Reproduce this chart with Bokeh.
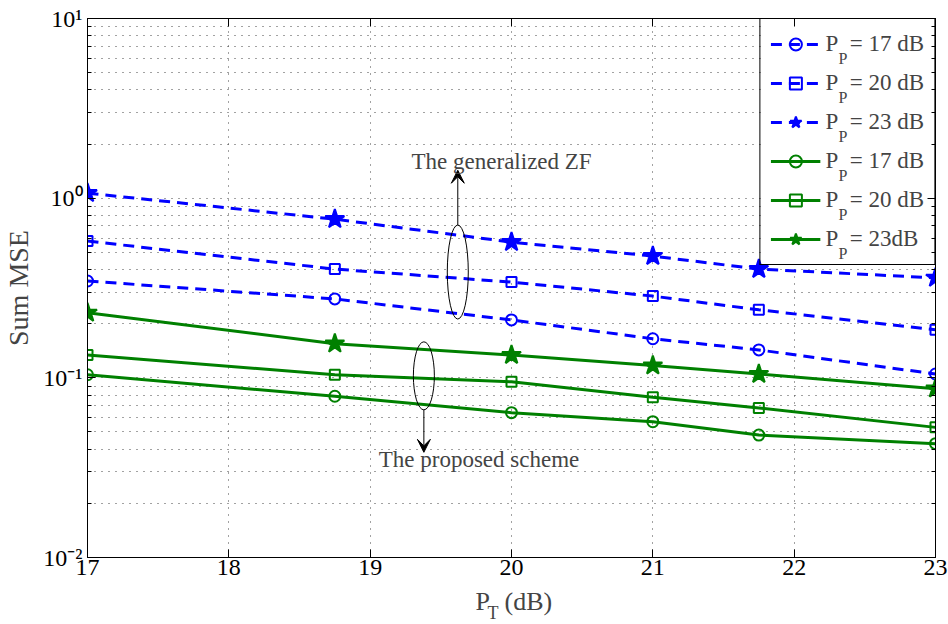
from bokeh.plotting import figure
from bokeh.layouts import column
from bokeh.models import (Legend, LegendItem, Label, Arrow, VeeHead, FixedTicker, BoxAnnotation,
                          LogAxis, LinearAxis, Range1d, CustomJSTickFormatter)
from bokeh.embed import file_html
from bokeh.resources import INLINE

# ---------------- data ----------------
pt_db = [17, 18.75, 20, 21, 21.75, 23]
zf_pp17 = [0.346, 0.275, 0.210, 0.165, 0.143, 0.105]
zf_pp20 = [0.577, 0.403, 0.341, 0.285, 0.239, 0.185]
zf_pp23 = [1.066, 0.764, 0.569, 0.476, 0.403, 0.360]
prop_pp17 = [0.104, 0.079, 0.064, 0.057, 0.048, 0.043]
prop_pp20 = [0.134, 0.104, 0.095, 0.078, 0.068, 0.053]
prop_pp23 = [0.230, 0.155, 0.134, 0.117, 0.105, 0.087]
legend_labels = ["P\u2002= 17 dB", "P\u2002= 20 dB", "P\u2002= 23 dB",
                 "P\u2002= 17 dB", "P\u2002= 20 dB", "P\u2002= 23dB"]
x_ticks = [17, 18, 19, 20, 21, 22, 23]
y_ticks = [0.01, 0.1, 1, 10]
y_tick_labels = ["10\u207b\u00b2", "10\u207b\u00b9", "10\u2070", "10\u00b9"]
y_minor = [k * 10.0 ** e for e in (-2, -1, 0) for k in range(2, 10)]

# annotation anchors (data coords)
zf_ellipse = (19.62, 0.388)
prop_ellipse = (19.38, 0.1026)
zf_arrow = (19.62, 0.708, 1.43)
prop_arrow = (19.38, 0.0662, 0.0385)
zf_text = (19.93, 1.6, "The generalized ZF")
prop_text = (19.77, 0.035, "The proposed scheme")
legend_backdrop = (21.765, 23, 0.4275, 10)   # left, right, bottom, top

FONT = "Liberation Serif"
BLUE = "#0000ff"
GREEN = "#008000"
GRID = "#444444"

p = figure(width=948, height=586, x_range=Range1d(17, 23), y_range=Range1d(0.01, 10),
           y_axis_type="log", output_backend="svg", toolbar_location=None,
           min_border_left=85, min_border_right=13, min_border_top=18, min_border_bottom=29)
p.background_fill_color = "white"
p.border_fill_color = "white"
p.outline_line_color = "black"
p.outline_line_width = 1

xt = FixedTicker(ticks=x_ticks, minor_ticks=[])
yt = FixedTicker(ticks=y_ticks, minor_ticks=y_minor)
p.xaxis.ticker = xt
p.yaxis.ticker = yt
p.yaxis.major_label_overrides = dict(zip(y_ticks, y_tick_labels))

for ax in (p.xaxis[0], p.yaxis[0]):
    ax.axis_line_color = "black"
    ax.major_tick_in = 8
    ax.major_tick_out = 0
    ax.minor_tick_in = 4
    ax.minor_tick_out = 0
    ax.major_tick_line_color = "black"
    ax.minor_tick_line_color = "black"
    ax.major_label_text_font = FONT
    ax.major_label_text_font_size = "24px"
    ax.major_label_text_color = "black"
p.xaxis.major_label_standoff = 2
p.yaxis.major_label_standoff = 5
p.yaxis.axis_label = "Sum MSE"
p.yaxis.axis_label_text_font = FONT
p.yaxis.axis_label_text_font_size = "28px"
p.yaxis.axis_label_text_font_style = "normal"
p.yaxis.axis_label_standoff = 6

blank = CustomJSTickFormatter(code="return ''")
top_ax = LinearAxis(ticker=xt, formatter=blank, major_tick_in=8, major_tick_out=0,
                    minor_tick_in=0, minor_tick_out=0, major_label_standoff=0,
                    major_label_text_font_size="1px")
right_ax = LogAxis(ticker=yt, formatter=blank, major_tick_in=8, major_tick_out=0,
                   minor_tick_in=4, minor_tick_out=0, major_label_standoff=0,
                   major_label_text_font_size="1px")
p.add_layout(top_ax, "above")
p.add_layout(right_ax, "right")

for g in (p.xgrid[0], p.ygrid[0]):
    g.grid_line_color = GRID
    g.grid_line_dash = "1 6"
    g.grid_line_width = 1
p.ygrid.minor_grid_line_color = GRID
p.ygrid.minor_grid_line_dash = "1 6"
p.ygrid.minor_grid_line_width = 1

# white backdrop for the legend (covers the grid, under the data)
p.add_layout(BoxAnnotation(left=legend_backdrop[0], right=legend_backdrop[1],
                           bottom=legend_backdrop[2], top=legend_backdrop[3],
                           fill_color="white", fill_alpha=1, line_color=None, level="underlay"))

series = [
    (zf_pp17, BLUE, "11 7", "circle", 11, 0),
    (zf_pp20, BLUE, "11 7", "square", 10, 1),
    (zf_pp23, BLUE, "11 7", "star", 20, 2),
    (prop_pp17, GREEN, "solid", "circle", 11, 3),
    (prop_pp20, GREEN, "solid", "square", 10, 4),
    (prop_pp23, GREEN, "solid", "star", 20, 5),
]
items = []
for ys, col, dash, mk, sz, i in series:
    rl = p.line(pt_db, ys, line_color=col, line_width=3, line_dash=dash)
    fill = col if mk == "star" else None
    rm = p.scatter(pt_db, ys, marker=mk, size=sz, line_color=col, fill_color=fill, line_width=2)
    items.append(LegendItem(label=legend_labels[i], renderers=[rl, rm]))

# legend subscripts
for i in range(6):
    p.add_layout(Label(x=23, y=10, x_offset=-97, y_offset=-(40 + 39 * i), text="P",
                       text_font=FONT, text_font_size="16px", text_baseline="alphabetic",
                       text_align="left"))

legend = Legend(items=items, location="top_right", label_text_font=FONT,
                label_text_font_size="23px", glyph_width=50, glyph_height=30,
                label_height=30, label_standoff=5, spacing=9, padding=10, margin=0,
                border_line_color="black", border_line_width=1, border_line_alpha=1,
                background_fill_alpha=0)
p.add_layout(legend)

# ellipses, arrows and texts
p.ellipse(x=[zf_ellipse[0]], y=[zf_ellipse[1]], width=21, height=94, width_units="screen",
          height_units="screen", fill_color=None, line_color="black", line_width=1)
p.ellipse(x=[prop_ellipse[0]], y=[prop_ellipse[1]], width=21, height=68, width_units="screen",
          height_units="screen", fill_color=None, line_color="black", line_width=1)
for ax_, y0, y1 in (zf_arrow, prop_arrow):
    p.add_layout(Arrow(x_start=ax_, y_start=y0, x_end=ax_, y_end=y1, line_color="black",
                       line_width=1, end=VeeHead(size=13, fill_color="black",
                                                 line_color="black")))
for tx, ty, s in (zf_text, prop_text):
    p.add_layout(Label(x=tx, y=ty, text=s, text_font=FONT, text_font_size="23px",
                       text_align="center", text_baseline="middle"))

# x-axis title strip:  P_T (dB)
QH = 38
q = figure(width=948, height=QH, x_range=p.x_range, y_range=Range1d(0, QH),
           output_backend="svg", toolbar_location=None,
           min_border_left=85, min_border_right=13, min_border_top=0, min_border_bottom=0)
q.axis.visible = False
q.grid.visible = False
q.outline_line_color = None
q.background_fill_color = "white"
q.border_fill_color = "white"
q.add_layout(Label(x=20, y=QH, x_offset=-36, y_offset=0, text="P", text_font=FONT,
                   text_font_size="26px", text_baseline="top", text_align="left"))
q.add_layout(Label(x=20, y=QH, x_offset=-24, y_offset=-16, text="T", text_font=FONT,
                   text_font_size="18px", text_baseline="top", text_align="left"))
q.add_layout(Label(x=20, y=QH, x_offset=-7, y_offset=0, text="(dB)", text_font=FONT,
                   text_font_size="26px", text_baseline="top", text_align="left"))

layout = column(p, q, spacing=0)
open("out.html", "w").write(file_html(layout, INLINE))
